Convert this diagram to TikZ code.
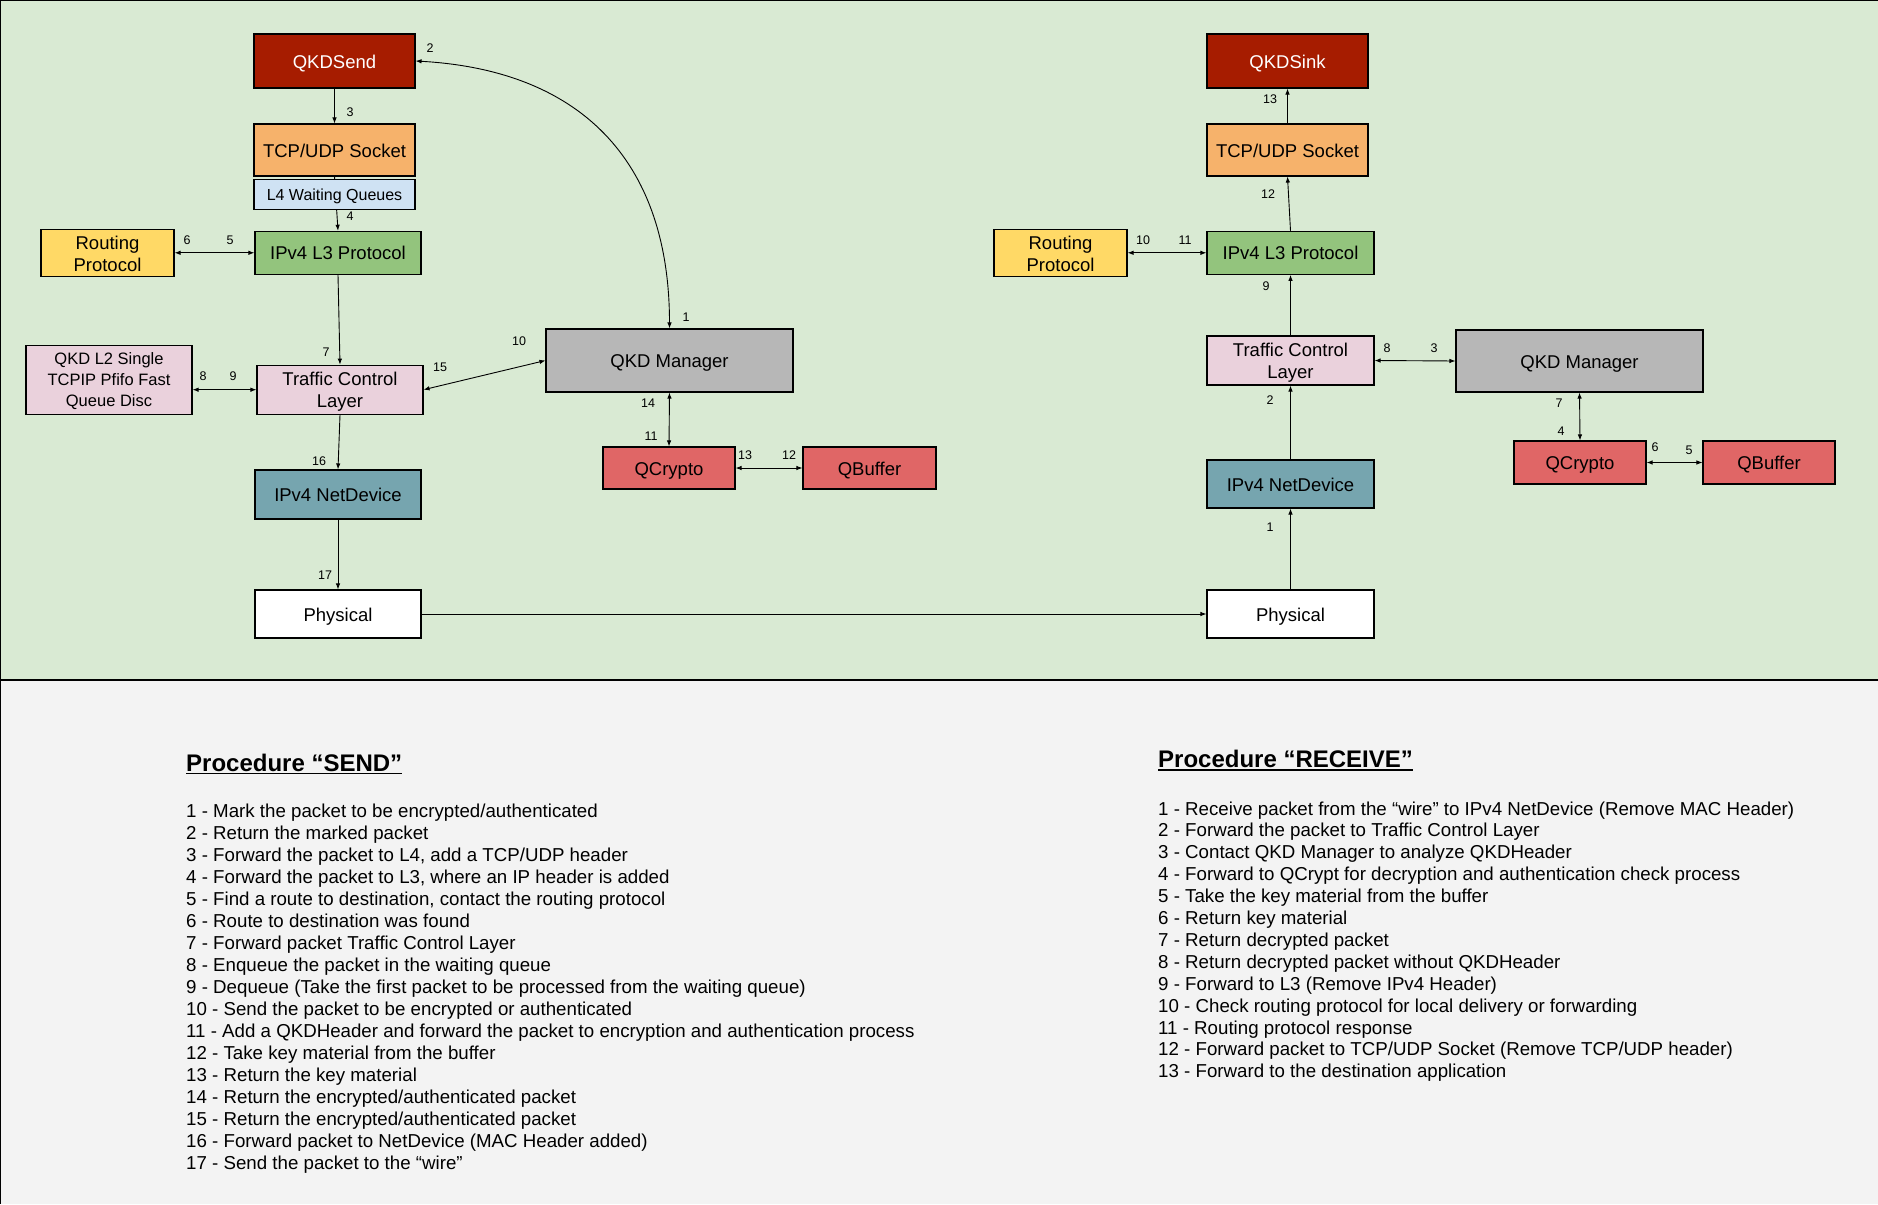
\documentclass[tikz,border=0pt]{standalone}
\usepackage{fontspec}
\setmainfont{Liberation Sans}
\usetikzlibrary{arrows.meta}

\definecolor{panelgreen}{HTML}{D9EAD3}
\definecolor{panelgray}{HTML}{F3F3F3}
\definecolor{appred}{HTML}{A61C00}
\definecolor{sockorange}{HTML}{F6B26B}
\definecolor{queueblue}{HTML}{CFE2F3}
\definecolor{routeyellow}{HTML}{FFD966}
\definecolor{ipgreen}{HTML}{93C47D}
\definecolor{tcpink}{HTML}{EAD1DC}
\definecolor{mgrgray}{HTML}{B7B7B7}
\definecolor{cryptored}{HTML}{E06666}
\definecolor{devteal}{HTML}{76A5AF}

\pgfdeclarelayer{back}
\pgfdeclarelayer{edges}
\pgfsetlayers{back,edges,main}

% centred lines (separated by \cr), reference point on the last baseline
\newcommand{\boxlines}[1]{\vbox{\halign{\hfil##\hfil\cr#1\crcr}}}

\begin{document}
\begin{tikzpicture}[x=1pt,y=-1pt,
  box/.style={draw=black, line width=1.1pt, inner sep=0pt,
    font=\fontsize{18.5}{22}\selectfont, text height=14.2pt, text depth=0pt},
  twolines/.style={text height=36.4pt, text depth=0pt},
  threelines/.style={font=\fontsize{16.5}{21}\selectfont, text height=53.6pt, text depth=0pt},
  smalltext/.style={font=\fontsize{16}{19}\selectfont, text height=11.8pt, text depth=0pt},
  sz/.style 2 args={minimum width=#1pt, minimum height=#2pt},
  num/.style={inner sep=0pt, font=\fontsize{12.5}{14}\selectfont},
  tip/.tip={Latex[length=6pt,width=4.5pt]},
  link/.style={line width=0.9pt, -tip},
  both/.style={line width=0.9pt, tip-tip},
  listline/.style={anchor=base west, inner sep=0pt, font=\fontsize{18.7}{22}\selectfont},
  title/.style={anchor=base west, inner sep=0pt, font=\fontsize{24}{28}\selectfont\bfseries},
]
\useasboundingbox (0,0) rectangle (1878,1204);

% ---------- panels ----------
\begin{pgfonlayer}{back}
  \fill[panelgreen] (0,0) rectangle (1878,680);
  \fill[panelgray] (0,680) rectangle (1878,1204);
  \draw[line width=1pt] (0,0.5) -- (1878,0.5);
  \draw[line width=1pt] (0.5,0) -- (0.5,1204);
  \draw[line width=2pt] (0,680) -- (1878,680);
\end{pgfonlayer}

% ---------- sender stack ----------
\node[box, sz={161}{54}, fill=appred, text=white] (sendL) at (334.5,61) {QKDSend};
\node[box, sz={161}{52}, fill=sockorange] (sockL) at (334.5,150) {TCP/UDP Socket};
\node[box, sz={161}{30}, fill=queueblue, smalltext] (queueL) at (334.5,194.5) {L4 Waiting Queues};
\node[box, sz={133}{47}, fill=routeyellow, twolines] (routL) at (107.5,252.8) {\boxlines{Routing\cr Protocol}};
\node[box, sz={166}{43}, fill=ipgreen] (ipL) at (338,252.8) {IPv4 L3 Protocol};
\node[box, sz={166}{69}, fill=tcpink, threelines] (qdiscL) at (109,379.7) {\boxlines{QKD L2 Single\cr TCPIP Pfifo Fast\cr Queue Disc}};
\node[box, sz={166}{49}, fill=tcpink, twolines] (tclL) at (340,389.7) {\boxlines{Traffic Control\cr Layer}};
\node[box, sz={247}{63}, fill=mgrgray] (mgrL) at (669.5,360.5) {QKD Manager};
\node[box, sz={132}{42}, fill=cryptored] (qcL) at (669,468) {QCrypto};
\node[box, sz={133}{42}, fill=cryptored] (qbL) at (869.5,468) {QBuffer};
\node[box, sz={166}{49}, fill=devteal] (ndL) at (338,494.5) {IPv4 NetDevice};
\node[box, sz={166}{48}, fill=white] (phL) at (338,614) {Physical};

% ---------- receiver stack ----------
\node[box, sz={161}{54}, fill=appred, text=white] (sinkR) at (1287.5,61) {QKDSink};
\node[box, sz={161}{52}, fill=sockorange] (sockR) at (1287.5,150) {TCP/UDP Socket};
\node[box, sz={133}{47}, fill=routeyellow, twolines] (routR) at (1060.5,252.8) {\boxlines{Routing\cr Protocol}};
\node[box, sz={167}{43}, fill=ipgreen] (ipR) at (1290.5,252.8) {IPv4 L3 Protocol};
\node[box, sz={167}{49}, fill=tcpink, twolines] (tclR) at (1290.5,360.5) {\boxlines{Traffic Control\cr Layer}};
\node[box, sz={247}{62}, fill=mgrgray] (mgrR) at (1579.5,361) {QKD Manager};
\node[box, sz={132}{43}, fill=cryptored] (qcR) at (1580,462.5) {QCrypto};
\node[box, sz={132}{43}, fill=cryptored] (qbR) at (1769,462.5) {QBuffer};
\node[box, sz={167}{48}, fill=devteal] (ndR) at (1290.5,484) {IPv4 NetDevice};
\node[box, sz={167}{48}, fill=white] (phR) at (1290.5,614) {Physical};

% ---------- connectors ----------
\begin{pgfonlayer}{edges}
  % sender
  \draw[link] (sendL) -- (sockL);
  \draw[link] (sockL.south) -- (ipL.north);
  \draw[both] (routL.east) -- (ipL.west);
  \draw[link] (ipL.south) -- (tclL.north);
  \draw[both] (qdiscL.east |- tclL.west) -- (tclL.west);
  \draw[both] (tclL.east) -- (mgrL.west);
  \draw[both] (sendL.east) .. controls (578,70) and (669.5,158) .. (mgrL.north);
  \draw[both] (mgrL.south) -- (qcL.north);
  \draw[both] (qcL.east) -- (qbL.west);
  \draw[link] (tclL.south) -- (ndL.north);
  \draw[link] (ndL.south) -- (phL.north);
  % wire
  \draw[link] (phL.east) -- (phR.west);
  % receiver
  \draw[link] (phR.north) -- (ndR.south);
  \draw[link] (ndR.north) -- (tclR.south);
  \draw[link] (tclR.north) -- (ipR.south);
  \draw[link] (ipR.north) -- (sockR.south);
  \draw[link] (sockR.north) -- (sinkR.south);
  \draw[both] (routR.east) -- (ipR.west);
  \draw[both] (tclR.east) -- (mgrR.west);
  \draw[both] (mgrR.south) -- (qcR.north);
  \draw[both] (qcR.east) -- (qbR.west);
\end{pgfonlayer}

% ---------- step numbers, sender ----------
\node[num] (sn1)  at (686,317) {1};
\node[num] (sn2)  at (430,48)  {2};
\node[num] (sn3)  at (350,112) {3};
\node[num] (sn4)  at (350,216) {4};
\node[num] (sn5)  at (230,240) {5};
\node[num] (sn6)  at (187,240) {6};
\node[num] (sn7)  at (326,352) {7};
\node[num] (sn8)  at (203,376) {8};
\node[num] (sn9)  at (233,376) {9};
\node[num] (sn10) at (519,341) {10};
\node[num] (sn11) at (651,436) {11};
\node[num] (sn12) at (789,455) {12};
\node[num] (sn13) at (745,455) {13};
\node[num] (sn14) at (648,403) {14};
\node[num] (sn15) at (440,367) {15};
\node[num] (sn16) at (319,461) {16};
\node[num] (sn17) at (325,575) {17};

% ---------- step numbers, receiver ----------
\node[num] (rn1)  at (1270,527) {1};
\node[num] (rn2)  at (1270,400) {2};
\node[num] (rn3)  at (1434,348) {3};
\node[num] (rn4)  at (1561,431) {4};
\node[num] (rn5)  at (1689,450) {5};
\node[num] (rn6)  at (1655,447) {6};
\node[num] (rn7)  at (1559,403) {7};
\node[num] (rn8)  at (1387,348) {8};
\node[num] (rn9)  at (1266,286) {9};
\node[num] (rn10) at (1143,240) {10};
\node[num] (rn11) at (1185,240) {11};
\node[num] (rn12) at (1268,194) {12};
\node[num] (rn13) at (1270,99)  {13};

% ---------- procedure lists ----------
\node[title] (sendtitle) at (186,771) {Procedure “SEND”};
\draw[line width=1.4pt] ([yshift=-2.6pt]sendtitle.base west) -- ([yshift=-2.6pt]sendtitle.base east);
\foreach \t [count=\i] in {
  {1 - Mark the packet to be encrypted/authenticated},
  {2 - Return the marked packet},
  {3 - Forward the packet to L4, add a TCP/UDP header},
  {4 - Forward the packet to L3, where an IP header is added},
  {5 - Find a route to destination, contact the routing protocol},
  {6 - Route to destination was found},
  {7 - Forward packet Traffic Control Layer},
  {8 - Enqueue the packet in the waiting queue},
  {9 - Dequeue (Take the first packet to be processed from the waiting queue)},
  {10 - Send the packet to be encrypted or authenticated},
  {11 - Add a QKDHeader and forward the packet to encryption and authentication process},
  {12 - Take key material from the buffer},
  {13 - Return the key material},
  {14 - Return the encrypted/authenticated packet},
  {15 - Return the encrypted/authenticated packet},
  {16 - Forward packet to NetDevice (MAC Header added)},
  {17 - Send the packet to the “wire”}}
  \node[listline] (sendstep\i) at (186,{817+22*(\i-1)}) {\t};

\node[title] (recvtitle) at (1158,767.5) {Procedure “RECEIVE”};
\draw[line width=1.4pt] ([yshift=-2.6pt]recvtitle.base west) -- ([yshift=-2.6pt]recvtitle.base east);
\foreach \t [count=\i] in {
  {1 - Receive packet from the “wire” to IPv4 NetDevice (Remove MAC Header)},
  {2 - Forward the packet to Traffic Control Layer},
  {3 - Contact QKD Manager to analyze QKDHeader},
  {4 - Forward to QCrypt for decryption and authentication check process},
  {5 - Take the key material from the buffer},
  {6 - Return key material},
  {7 - Return decrypted packet},
  {8 - Return decrypted packet without QKDHeader},
  {9 - Forward to L3 (Remove IPv4 Header)},
  {10 - Check routing protocol for local delivery or forwarding},
  {11 - Routing protocol response},
  {12 - Forward packet to TCP/UDP Socket (Remove TCP/UDP header)},
  {13 - Forward to the destination application}}
  \node[listline] (recvstep\i) at (1158,{815+21.9*(\i-1)}) {\t};
\end{tikzpicture}
\end{document}
